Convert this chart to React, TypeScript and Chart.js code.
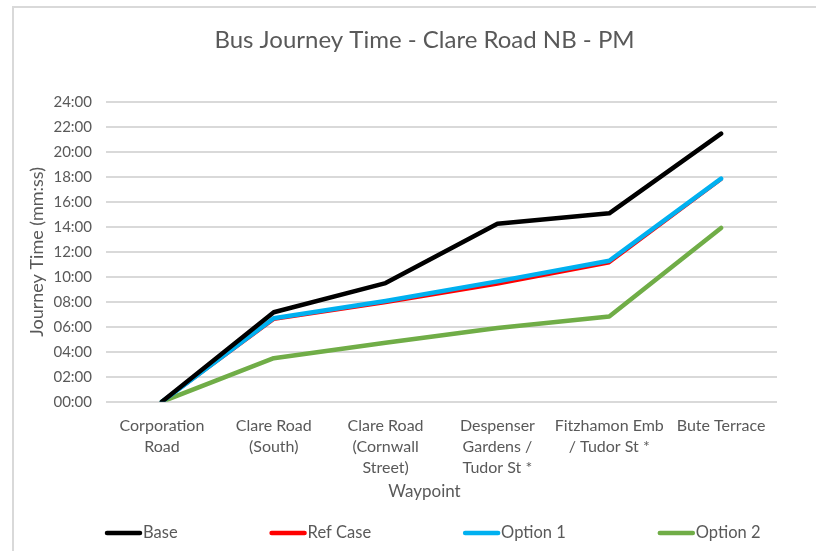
import React, { useEffect, useRef } from "react";
import { Chart, registerables } from "chart.js";

Chart.register(...registerables);

// ---------- data ----------
const categories: string[][] = [
  ["Corporation", "Road"],
  ["Clare Road", "(South)"],
  ["Clare Road", "(Cornwall", "Street)"],
  ["Despenser", "Gardens /", "Tudor St *"],
  ["Fitzhamon Emb", "/ Tudor St *"],
  ["Bute Terrace"],
];

// journey times in seconds
const baseTimes = [0, 430, 570, 855, 905, 1288];
const refCaseTimes = [0, 396, 477, 565, 668, 1068];
const option1Times = [0, 401, 484, 578, 677, 1072];
const option2Times = [0, 209, 283, 354, 409, 835];

const seriesNames = ["Base", "Ref Case", "Option 1", "Option 2"];
const seriesColors = ["#000000", "#ff0000", "#00b0f0", "#70ad47"];
const seriesOrder = [0, 2, 1, 3];

const yMaxSeconds = 1440;
const yStepSeconds = 120;

const chartTitle = "Bus Journey Time - Clare Road NB - PM";
const xAxisTitle = "Waypoint";
const yAxisTitle = "Journey Time (mm:ss)";

const FONT = "Lato, 'Liberation Sans', sans-serif";
const TEXT = "#595959";

function fmt(sec: number): string {
  const m = Math.floor(sec / 60);
  const s = Math.round(sec - m * 60);
  return String(m).padStart(2, "0") + ":" + String(s).padStart(2, "0");
}

const overlayPlugin = {
  id: "overlay",
  afterDraw(chart: any) {
    const ctx = chart.ctx as CanvasRenderingContext2D;
    ctx.save();
    ctx.fillStyle = TEXT;
    ctx.textAlign = "center";
    ctx.textBaseline = "middle";
    ctx.font = `24px ${FONT}`;
    ctx.fillText(chartTitle, chart.width / 2, 32);
    ctx.font = `17px ${FONT}`;
    ctx.fillText(xAxisTitle, chart.width / 2, 484);
    // legend
    ctx.font = `16.5px ${FONT}`;
    ctx.textAlign = "left";
    let x = 91;
    const y = 525;
    chart.data.datasets.forEach((ds: any) => {
      ctx.strokeStyle = ds.borderColor;
      ctx.lineWidth = 4.5;
      ctx.lineCap = "round";
      ctx.beginPath();
      ctx.moveTo(x + 2, y);
      ctx.lineTo(x + 35, y);
      ctx.stroke();
      ctx.fillText(ds.label, x + 38, y);
      x += 38 + ctx.measureText(ds.label).width + 92;
    });
    ctx.restore();
  },
};

export default function App() {
  const canvasRef = useRef<HTMLCanvasElement | null>(null);

  useEffect(() => {
    if (!canvasRef.current) return;
    const series = [baseTimes, refCaseTimes, option1Times, option2Times];
    const chart = new Chart(canvasRef.current, {
      type: "line",
      data: {
        labels: categories,
        datasets: series.map((d, i) => ({
          label: seriesNames[i],
          data: d,
          borderColor: seriesColors[i],
          backgroundColor: seriesColors[i],
          borderWidth: i === 1 ? 3.5 : 4.5,
          pointRadius: 0,
          pointHoverRadius: 0,
          tension: 0,
          fill: false,
          borderCapStyle: "round" as const,
          borderJoinStyle: "round" as const,
          order: seriesOrder[i],
        })),
      },
      options: {
        animation: false,
        responsive: true,
        maintainAspectRatio: false,
        layout: { padding: { top: 94, left: 0, right: 58, bottom: 50 } },
        plugins: {
          legend: { display: false },
          title: { display: false },
          tooltip: { enabled: false },
        },
        scales: {
          x: {
            type: "category",
            offset: true,
            grid: { display: false },
            border: { display: false },
            ticks: {
              color: TEXT,
              font: { family: FONT, size: 16, lineHeight: 1.3 },
              padding: 6,
              maxRotation: 0,
              minRotation: 0,
              autoSkip: false,
            },
            afterFit(s: any) {
              s.height = 99.3;
            },
          },
          y: {
            min: 0,
            max: yMaxSeconds,
            ticks: {
              stepSize: yStepSeconds,
              color: TEXT,
              font: { family: FONT, size: 15 },
              padding: 14,
              callback: (v: any) => fmt(Number(v)),
            },
            grid: { color: "#d9d9d9", lineWidth: 2, drawTicks: false },
            border: { display: false },
            title: {
              display: true,
              text: yAxisTitle,
              color: TEXT,
              font: { family: FONT, size: 18 },
              padding: { top: 12, bottom: 0 },
            },
            afterFit(s: any) {
              s.width = 92;
            },
          },
        },
      },
      plugins: [overlayPlugin],
    });
    return () => chart.destroy();
  }, []);

  return (
    <div
      style={{
        position: "fixed",
        left: 0,
        top: 0,
        width: 816,
        height: 551,
        overflow: "hidden",
        background: "#ffffff",
      }}
    >
      <div
        style={{
          position: "absolute",
          left: 12,
          top: 6,
          width: 900,
          height: 700,
          border: "2px solid #d9d9d9",
          boxSizing: "border-box",
        }}
      />
      <div style={{ position: "absolute", left: 14, top: 8, width: 821, height: 543 }}>
        <canvas ref={canvasRef} />
      </div>
    </div>
  );
}
